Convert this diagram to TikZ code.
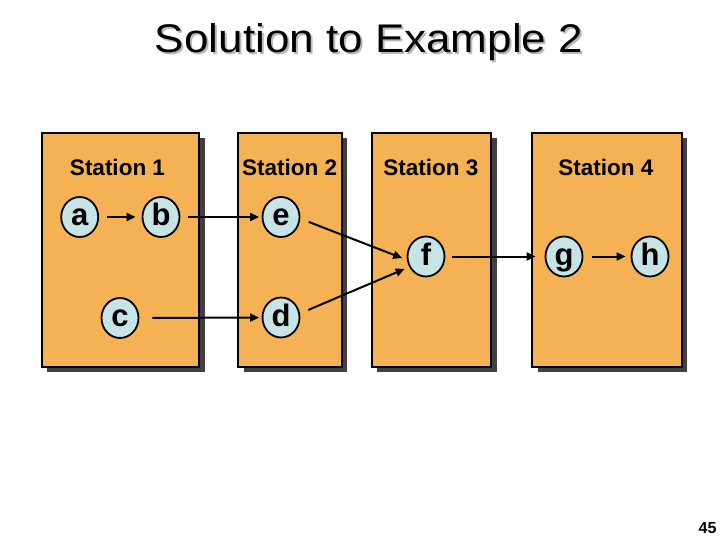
\documentclass[tikz,border=0pt]{standalone}
\usepackage{fontspec}
\setmainfont{Liberation Sans}
\usetikzlibrary{shapes.geometric,arrows.meta}
\definecolor{boxfill}{RGB}{244,178,85}
\definecolor{boxshadow}{RGB}{64,64,64}
\definecolor{opfill}{RGB}{198,227,230}
\definecolor{titleshadow}{RGB}{185,185,185}
\tikzset{
  stationbox/.style={fill=boxfill,draw=black,line width=1.8pt},
  stationshadow/.style={fill=boxshadow},
  stationlabel/.style={anchor=base,inner sep=0pt,font=\fontsize{22.5}{26}\selectfont\bfseries},
  op/.style={ellipse,draw=black,line width=1.8pt,fill=opfill,minimum width=37pt,minimum height=40pt,inner sep=0pt,
    text height=17pt,text depth=0pt,font=\fontsize{31}{36}\selectfont\bfseries},
  flow/.style={line width=2pt,-{Triangle[length=9pt,width=8pt]},shorten <=8pt,shorten >=5pt},
  titletext/.style={anchor=base,inner sep=0pt,font=\fontsize{40}{48}\selectfont},
}
\begin{document}
\begin{tikzpicture}[x=1pt,y=-1pt]
\useasboundingbox (0,0) rectangle (720,540);
% title
\node[titletext,text=titleshadow] (titleshade) at (371,54.5) {\scalebox{1.1}[1]{Solution to Example 2}};
\node[titletext] (title) at (369,52.5) {\scalebox{1.1}[1]{Solution to Example 2}};
% boxes
\foreach \xa/\xb in {41.7/199, 238/341.7, 371.7/491, 532/681.7}{
  \fill[stationshadow] (\xa+5.5,138.2) rectangle (\xb+5.5,372.2);
  \draw[stationbox] (\xa,132.7) rectangle (\xb,366.7);
}
\node[stationlabel] (s1) at (117.5,175.5) {Station 1};
\node[stationlabel] (s2) at (289.7,175.5) {Station 2};
\node[stationlabel] (s3) at (430.8,175.5) {Station 3};
\node[stationlabel] (s4) at (605.8,175.5) {Station 4};
% operations
\node[op] (a) at (79.7,217) {a};
\node[op] (b) at (161,217) {b};
\node[op] (e) at (281,217) {e};
\node[op] (c) at (120,318) {c};
\node[op] (d) at (281,317.5) {d};
\node[op] (f) at (426,256.5) {f};
\node[op] (g) at (564,256.5) {g};
\node[op] (h) at (650,256.5) {h};
% connectors
\draw[flow,shorten >=6pt] (a) -- (b);
\draw[flow,shorten >=2.5pt] (b) -- (e);
\draw[flow,shorten <=13pt,shorten >=2.5pt] (c) -- (d);
\draw[flow,shorten <=9pt] (e.-5) -- (f.190);
\draw[flow,shorten <=9pt] (d.12) -- (f.212);
\draw[flow,shorten <=7pt,shorten >=9pt] (f) -- (g);
\draw[flow,shorten <=9pt] (g) -- (h);
% page number
\node[anchor=base,inner sep=0pt,font=\fontsize{16}{18}\selectfont\bfseries] (pg) at (707.5,533.3) {45};
\end{tikzpicture}
\end{document}
